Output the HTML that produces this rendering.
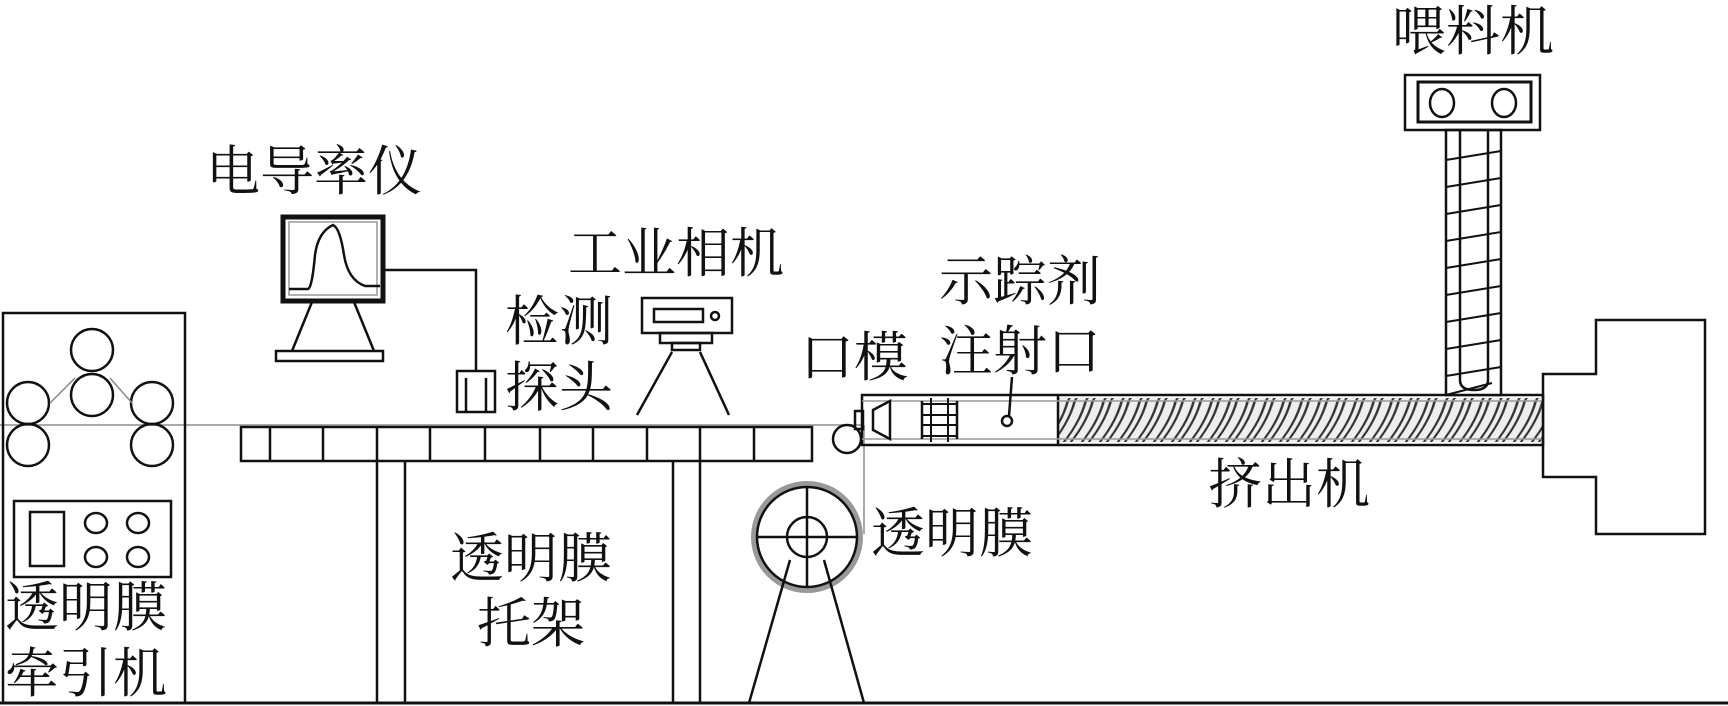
<!DOCTYPE html>
<html><head><meta charset="utf-8"><style>
html,body{margin:0;padding:0;background:#fff;}
svg{display:block;}
text{font-family:"Liberation Serif","Noto Serif CJK SC",serif;font-size:54px;fill:#111;}
</style></head><body>
<svg width="1728" height="706" viewBox="0 0 1728 706" xmlns="http://www.w3.org/2000/svg">
<defs>
<pattern id="scr" width="18" height="50" patternUnits="userSpaceOnUse" patternTransform="skewX(-30)">
<rect width="18" height="50" fill="#eee"/>
<path d="M3 0 Q11 25 3 50 M10 0 Q18 25 10 50" stroke="#333" stroke-width="2.5" fill="none"/>
</pattern>
</defs>
<g stroke="#111" fill="none" stroke-width="2.5">
<line x1="0" y1="703" x2="1728" y2="703" stroke-width="3"/>
<line x1="0" y1="425" x2="862" y2="425" stroke="#aaa" stroke-width="2"/>
<line x1="864" y1="425" x2="864" y2="534" stroke="#aaa" stroke-width="2"/>
<rect x="3" y="313" width="182" height="390"/>
<circle cx="92" cy="350" r="21"/><circle cx="92" cy="395" r="21"/>
<circle cx="28" cy="403" r="21"/><circle cx="28" cy="445" r="21"/>
<circle cx="152" cy="403" r="21"/><circle cx="152" cy="445" r="21"/>
<path d="M50 403 L75 378 M110 378 L132 403" stroke="#888" stroke-width="1.5"/>
<rect x="14" y="501" width="157" height="76"/>
<rect x="30" y="512" width="34" height="54"/>
<ellipse cx="96" cy="523" rx="11" ry="10"/><ellipse cx="96" cy="557" rx="11" ry="10"/>
<ellipse cx="138" cy="523" rx="11" ry="10"/><ellipse cx="138" cy="557" rx="11" ry="10"/>
<rect x="241" y="427" width="571" height="34"/>
<path d="M270 427V461M323 427V461M377 427V461M430 427V461M485 427V461M540 427V461M593 427V461M647 427V461M700 427V461M754 427V461"/>
<path d="M377 461V703M405 461V703M673 461V703M700 461V703"/>
<rect x="283" y="217" width="100" height="84" stroke-width="5"/>
<rect x="289" y="222" width="88" height="73" stroke="#999" stroke-width="1.5"/>
<path d="M289 289 L308 289 Q312 288 315 255 Q318 232 333 225 Q340 228 344 255 Q348 280 365 286 L380 286"/>
<path d="M312 302 L292 351 M354 302 L374 351"/>
<rect x="276" y="351" width="107" height="10"/>
<path d="M385 270 H476 V371"/>
<rect x="457" y="371" width="38" height="41"/>
<path d="M466 378V412M486 378V412"/>
<rect x="642" y="298" width="90" height="35"/>
<rect x="654" y="309" width="49" height="13"/>
<circle cx="715" cy="316" r="4"/>
<rect x="660" y="333" width="52" height="10"/>
<rect x="672" y="343" width="28" height="7"/>
<path d="M672 352 L637 415 M700 352 L729 415"/>
<circle cx="847" cy="439" r="14"/>
<circle cx="807" cy="537" r="53" stroke="#999" stroke-width="6"/>
<circle cx="807" cy="537" r="50"/>
<circle cx="807" cy="537" r="20"/>
<path d="M757 537H857M807 487V587"/>
<path d="M790 560 L749 703 M824 560 L864 703"/>
<rect x="862" y="395" width="681" height="50"/>
<rect x="1058" y="398" width="485" height="44" fill="url(#scr)" stroke="none"/>
<line x1="1058" y1="395" x2="1058" y2="445"/>
<line x1="862" y1="401" x2="1543" y2="401" stroke="#999" stroke-width="1.5"/>
<line x1="862" y1="439" x2="1543" y2="439" stroke="#999" stroke-width="1.5"/>
<rect x="855" y="411" width="8" height="18"/>
<path d="M873 410 L890 401 V439 L873 430 Z"/>
<path d="M922 401 V439 M957 401 V439"/>
<rect x="922" y="404" width="35" height="32" stroke-width="2"/>
<path d="M931 398V442M948 398V442M922 415H957M922 425H957" stroke-width="2"/>
<circle cx="1007" cy="421" r="5"/>
<line x1="1009" y1="416" x2="1012" y2="377"/>
<rect x="1446" y="130" width="55" height="265" fill="#fff"/>
<path d="M1460 130 V380 Q1460 390 1474 390 Q1488 390 1488 380 V130"/>
<path d="M1446 160l55-9M1446 187l55-9M1446 214l55-9M1446 241l55-9M1446 268l55-9M1446 295l55-9M1446 322l55-9M1446 349l55-9M1446 376l55-9M1446 395l46-12" stroke-width="2"/>
<rect x="1405" y="75" width="135" height="55"/>
<rect x="1418" y="82" width="113" height="40" stroke-width="3"/>
<ellipse cx="1442" cy="103" rx="12" ry="14"/>
<ellipse cx="1504" cy="103" rx="12" ry="14"/>
<path d="M1543 374 H1596 V320 H1705 V534 H1596 V477 H1543 Z"/>
</g>
<text x="206" y="190">电导率仪</text>
<text x="568" y="272">工业相机</text>
<text x="505" y="340">检测</text>
<text x="505" y="406">探头</text>
<text x="800" y="376">口模</text>
<text x="939" y="300">示踪剂</text>
<text x="939" y="370">注射口</text>
<text x="1392" y="50">喂料机</text>
<text x="1208" y="503">挤出机</text>
<text x="871" y="552">透明膜</text>
<text x="450" y="577">透明膜</text>
<text x="477" y="642">托架</text>
<text x="5" y="626">透明膜</text>
<text x="5" y="692">牵引机</text>
</svg>
</body></html>
